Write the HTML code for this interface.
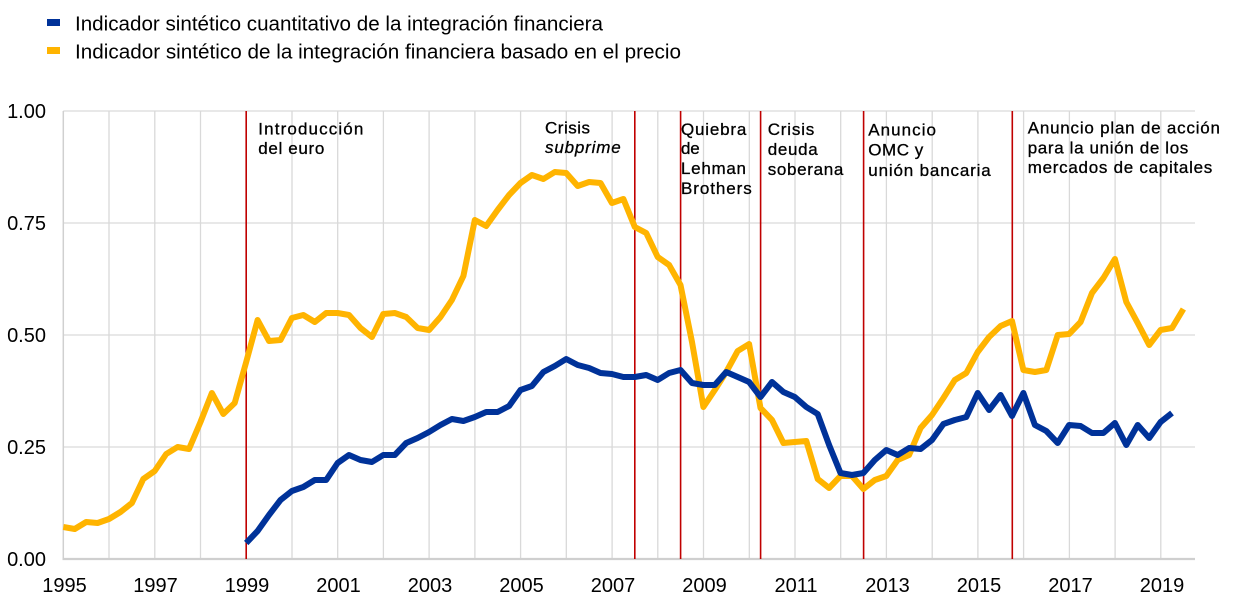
<!DOCTYPE html>
<html><head><meta charset="utf-8"><style>
html,body{margin:0;padding:0;background:#fff;}
svg{display:block;}
text{font-family:"Liberation Sans",Arial,sans-serif;fill:#000;}
</style></head><body>
<svg width="1240" height="601" viewBox="0 0 1240 601" xmlns="http://www.w3.org/2000/svg">
<rect width="1240" height="601" fill="#fff"/>
<!-- legend -->
<rect x="47" y="19" width="13" height="7" fill="#003299"/>
<rect x="47" y="47" width="13" height="7" fill="#FFB400"/>
<text x="75" y="30.5" font-size="20" textLength="528" lengthAdjust="spacingAndGlyphs">Indicador sintético cuantitativo de la integración financiera</text>
<text x="75" y="58.5" font-size="20" textLength="606" lengthAdjust="spacingAndGlyphs">Indicador sintético de la integración financiera basado en el precio</text>
<!-- horizontal grid -->
<g stroke="#d9d9d9" stroke-width="1.3">
<line x1="63.3" y1="111" x2="1195" y2="111"/>
<line x1="63.3" y1="223" x2="1195" y2="223"/>
<line x1="63.3" y1="335" x2="1195" y2="335"/>
<line x1="63.3" y1="447" x2="1195" y2="447"/>
</g>
<!-- vertical grid -->
<g stroke="#d9d9d9" stroke-width="1.3">
<line x1="109.0" y1="111" x2="109.0" y2="559"/>
<line x1="154.8" y1="111" x2="154.8" y2="559"/>
<line x1="200.5" y1="111" x2="200.5" y2="559"/>
<line x1="292.0" y1="111" x2="292.0" y2="559"/>
<line x1="337.7" y1="111" x2="337.7" y2="559"/>
<line x1="383.4" y1="111" x2="383.4" y2="559"/>
<line x1="429.1" y1="111" x2="429.1" y2="559"/>
<line x1="474.9" y1="111" x2="474.9" y2="559"/>
<line x1="520.6" y1="111" x2="520.6" y2="559"/>
<line x1="566.3" y1="111" x2="566.3" y2="559"/>
<line x1="612.1" y1="111" x2="612.1" y2="559"/>
<line x1="657.8" y1="111" x2="657.8" y2="559"/>
<line x1="703.5" y1="111" x2="703.5" y2="559"/>
<line x1="749.3" y1="111" x2="749.3" y2="559"/>
<line x1="795.0" y1="111" x2="795.0" y2="559"/>
<line x1="840.7" y1="111" x2="840.7" y2="559"/>
<line x1="886.4" y1="111" x2="886.4" y2="559"/>
<line x1="932.2" y1="111" x2="932.2" y2="559"/>
<line x1="977.9" y1="111" x2="977.9" y2="559"/>
<line x1="1023.6" y1="111" x2="1023.6" y2="559"/>
<line x1="1069.4" y1="111" x2="1069.4" y2="559"/>
<line x1="1115.1" y1="111" x2="1115.1" y2="559"/>
<line x1="1160.8" y1="111" x2="1160.8" y2="559"/>
</g>
<!-- axes -->
<line x1="63.3" y1="111" x2="63.3" y2="560" stroke="#d0d0d0" stroke-width="1.5"/>
<line x1="62.5" y1="559" x2="1195" y2="559" stroke="#cfcfcf" stroke-width="2.2"/>
<!-- red event lines -->
<g stroke="#C00000" stroke-width="1.6">
<line x1="246.2" y1="111" x2="246.2" y2="559"/>
<line x1="634.8" y1="111" x2="634.8" y2="559"/>
<line x1="680.6" y1="111" x2="680.6" y2="559"/>
<line x1="760.6" y1="111" x2="760.6" y2="559"/>
<line x1="863.6" y1="111" x2="863.6" y2="559"/>
<line x1="1012.3" y1="111" x2="1012.3" y2="559"/>
</g>
<!-- y labels -->
<g font-size="20" text-anchor="end">
<text x="46" y="118">1.00</text>
<text x="46" y="230">0.75</text>
<text x="46" y="342">0.50</text>
<text x="46" y="454">0.25</text>
<text x="46" y="566">0.00</text>
</g>
<!-- x labels -->
<g font-size="20" text-anchor="middle">
<text x="64.5" y="592">1995</text>
<text x="155.5" y="592">1997</text>
<text x="247" y="592">1999</text>
<text x="338.5" y="592">2001</text>
<text x="430" y="592">2003</text>
<text x="521.5" y="592">2005</text>
<text x="613" y="592">2007</text>
<text x="704.5" y="592">2009</text>
<text x="796" y="592">2011</text>
<text x="887.5" y="592">2013</text>
<text x="979" y="592">2015</text>
<text x="1070.5" y="592">2017</text>
<text x="1162" y="592">2019</text>
</g>
<!-- annotations -->
<g font-size="17" stroke="#000" stroke-width="0.3">
<text x="258.3" y="134.5" textLength="105" lengthAdjust="spacing">Introducción</text>
<text x="258.3" y="154" textLength="66" lengthAdjust="spacing">del euro</text>
<text x="545" y="133.5" textLength="45" lengthAdjust="spacing">Crisis</text>
<text x="545" y="153" textLength="75.7" lengthAdjust="spacing" font-style="italic">subprime</text>
<text x="681" y="135" textLength="65.3" lengthAdjust="spacing">Quiebra</text>
<text x="681" y="154" textLength="18.7" lengthAdjust="spacing">de</text>
<text x="681" y="174" textLength="65" lengthAdjust="spacing">Lehman</text>
<text x="681" y="194" textLength="70.7" lengthAdjust="spacing">Brothers</text>
<text x="767.7" y="135" textLength="46.6" lengthAdjust="spacing">Crisis</text>
<text x="767.7" y="155" textLength="50" lengthAdjust="spacing">deuda</text>
<text x="767.7" y="175" textLength="75.6" lengthAdjust="spacing">soberana</text>
<text x="868.3" y="135.7" textLength="67.7" lengthAdjust="spacing">Anuncio</text>
<text x="868.3" y="155.7" textLength="55" lengthAdjust="spacing">OMC y</text>
<text x="868.3" y="176" textLength="122.4" lengthAdjust="spacing">unión bancaria</text>
<text x="1027.7" y="133.5" textLength="192.3" lengthAdjust="spacing">Anuncio plan de acción</text>
<text x="1027.7" y="153.3" textLength="160.6" lengthAdjust="spacing">para la unión de los</text>
<text x="1027.7" y="173" textLength="184.6" lengthAdjust="spacing">mercados de capitales</text>
</g>
<!-- orange series -->
<polyline fill="none" stroke="#FFB400" stroke-width="6" stroke-linejoin="round" points="
63.3,527 74.7,529 86.2,522 97.6,523 109.0,519 120.5,512 131.9,503 143.3,479 154.7,471 166.2,454 177.6,447 189.0,449 200.5,422 211.9,393 223.3,414 234.7,403 246.2,362 257.6,320 269.0,341 280.5,340 291.9,318 303.3,315 314.8,322 326.2,313 337.6,313 349.0,315 360.5,328 371.9,337 383.3,314 394.8,313 406.2,317 417.6,328 429.1,330 440.5,317 451.9,300 463.4,276 474.8,220 486.2,226 497.6,210 509.1,195 520.5,183 531.9,175 543.4,179 554.8,172 566.2,173 577.7,186 589.1,182 600.5,183 611.9,203 623.4,199 634.8,227 646.2,233 657.7,257 669.1,265 680.5,285 692.0,342 703.4,407 714.8,390 726.2,372 737.7,351 749.1,344 760.5,408 772.0,420 783.4,443 794.8,442 806.3,441 817.7,479 829.1,488 840.5,476 852.0,476 863.4,489 874.8,480 886.3,476 897.7,460 909.1,455 920.6,428 932.0,415 943.4,398 954.8,380 966.3,373 977.7,352 989.1,337 1000.6,326 1012.0,321 1023.4,370 1034.9,372 1046.3,370 1057.7,335 1069.1,334 1080.6,322 1092.0,293 1103.4,278 1114.9,259 1126.3,302 1137.7,323 1149.2,345 1160.6,330 1172.0,328 1183.4,309"/>
<!-- blue series -->
<polyline fill="none" stroke="#003299" stroke-width="6" stroke-linejoin="round" points="
246.2,543 257.6,531 269.0,515 280.5,500 291.9,491 303.3,487 314.8,480 326.2,480 337.6,463 349.0,455 360.5,460 371.9,462 383.3,455 394.8,455 406.2,443 417.6,438 429.1,432 440.5,425 451.9,419 463.4,421 474.8,417 486.2,412 497.6,412 509.1,406 520.5,390 531.9,386 543.4,372 554.8,366 566.2,359 577.7,365 589.1,368 600.5,373 611.9,374 623.4,377 634.8,377 646.2,375 657.7,380 669.1,373 680.5,370 692.0,383 703.4,385 714.8,385 726.2,372 737.7,377 749.1,382 760.5,397 772.0,382 783.4,392 794.8,397 806.3,407 817.7,414 829.1,445 840.5,473 852.0,475 863.4,473 874.8,460 886.3,450 897.7,455 909.1,448 920.6,449 932.0,440 943.4,424 954.8,420 966.3,417 977.7,393 989.1,410 1000.6,395 1012.0,416 1023.4,393 1034.9,425 1046.3,431 1057.7,443 1069.1,425 1080.6,426 1092.0,433 1103.4,433 1114.9,423 1126.3,445 1137.7,425 1149.2,438 1160.6,422 1172.0,413"/>
</svg>
</body></html>
